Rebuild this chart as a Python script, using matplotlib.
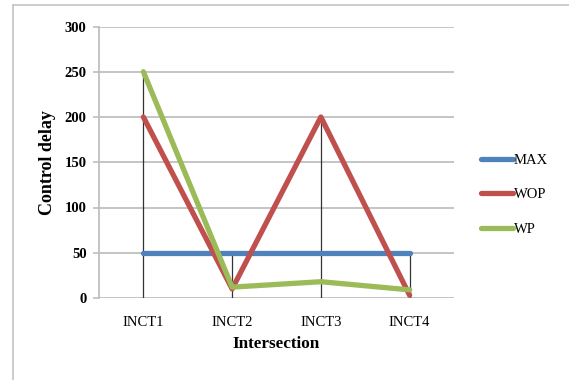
import numpy as np
import matplotlib.pyplot as plt
from matplotlib.lines import Line2D

categories = ["INCT1", "INCT2", "INCT3", "INCT4"]
max_delay = [50, 50, 50, 50]
wop_delay = [200, 10, 200, 3]
wp_delay = [250, 12, 18, 9]

series = [
    ("MAX", max_delay, "#4F81BD"),
    ("WOP", wop_delay, "#C0504D"),
    ("WP", wp_delay, "#9BBB59"),
]

plt.rcParams["font.family"] = ["Liberation Serif", "DejaVu Serif"]

fig = plt.figure(figsize=(5.69, 3.80), dpi=100)
ax = fig.add_axes([99 / 569, 82 / 380, 355 / 569, 271.5 / 380])

x = np.arange(len(categories))

# drop lines from the highest point of each category to the axis
tops = np.max([max_delay, wop_delay, wp_delay], axis=0)
ax.vlines(x, 0, tops, color="#333333", linewidth=0.9, zorder=2)

for name, vals, color in series:
    ax.plot(x, vals, color=color, linewidth=3.8, solid_capstyle="round",
            solid_joinstyle="round", label=name, zorder=3)

ax.set_xlim(-0.5, len(categories) - 0.5)
ax.set_ylim(0, 300)
ax.set_yticks(range(0, 301, 50))
ax.set_xticks(x)
ax.set_xticklabels(categories, fontsize=10.5)
ax.tick_params(axis="x", length=0, pad=13)
ax.tick_params(axis="y", length=4, width=1.2, color="#BFBFBF", labelsize=10.5, pad=5)
for lbl in ax.get_yticklabels():
    lbl.set_fontweight("bold")

ax.grid(axis="y", color="#BFBFBF", linewidth=1.3, zorder=0)
ax.set_axisbelow(True)
for side in ["top", "right", "bottom"]:
    ax.spines[side].set_visible(False)
ax.spines["left"].set_color("#BFBFBF")
ax.spines["left"].set_linewidth(1.3)

ax.set_xlabel("Intersection", fontsize=12.3, fontweight="bold", labelpad=5)
ax.set_ylabel("Control delay", fontsize=13, fontweight="bold", labelpad=6)

leg = ax.legend(loc="center left", bbox_to_anchor=(1.06, 0.38), frameon=False,
                fontsize=10.5, handlelength=2.2, handletextpad=0.05,
                labelspacing=1.45, borderaxespad=0)

# outer chart border
fig.add_artist(Line2D([12.7 / 569, 12.7 / 569], [0, 1 - 4.7 / 380],
                      color="#C8C8C8", linewidth=1.3, transform=fig.transFigure))
fig.add_artist(Line2D([12.7 / 569, 1], [1 - 4.7 / 380, 1 - 4.7 / 380],
                      color="#C8C8C8", linewidth=1.3, transform=fig.transFigure))

fig.savefig("out.png", dpi=100)
